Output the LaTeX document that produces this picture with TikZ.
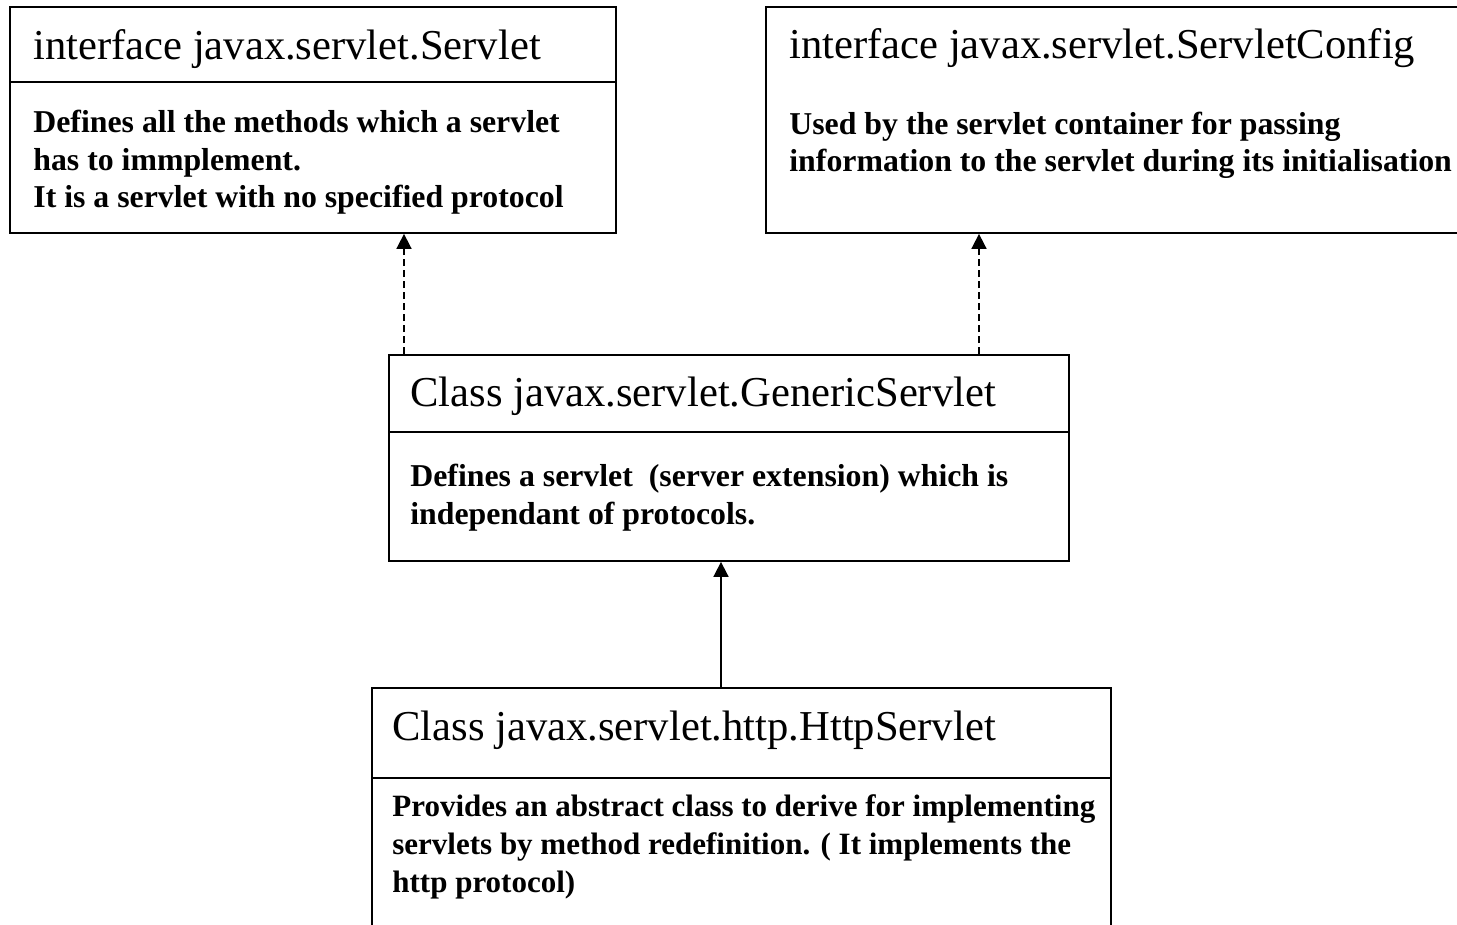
\documentclass[tikz,border=0pt]{standalone}
\usepackage{fontspec}
\setmainfont{Liberation Serif}
\usetikzlibrary{arrows.meta}

\tikzset{
  classbox/.style={draw, line width=0.9pt, inner sep=0pt},
  titletext/.style={anchor=base west, inner sep=0pt, font=\fontsize{21.3}{25}\selectfont},
  bodytext/.style={anchor=base west, inner sep=0pt, align=left, font=\fontsize{15.9}{18.8}\selectfont\bfseries},
  realize/.style={-{Triangle[width=7.5pt,length=7.5pt]}, line width=0.85pt, dash pattern=on 3.5pt off 2pt},
  inherit/.style={-{Triangle[width=7.5pt,length=7.5pt]}, line width=0.85pt}
}

\begin{document}
\begin{tikzpicture}[x=0.5pt,y=-0.5pt]

  \useasboundingbox (0,0) rectangle (1457,925);

  % the four boxes
  \node[classbox, minimum width=303pt, minimum height=113pt] (servlet) at (313,120) {};
  \node[classbox, minimum width=352pt, minimum height=113pt] (config) at (1118,120) {};
  \node[classbox, minimum width=340pt, minimum height=103pt] (generic) at (729,458) {};
  \node[classbox, minimum width=369.5pt, minimum height=136pt] (http) at (741.5,824) {};

  % dividers
  \draw[line width=0.9pt] (servlet.west |- 0,82) -- (servlet.east |- 0,82);
  \draw[line width=0.9pt] (generic.west |- 0,432) -- (generic.east |- 0,432);
  \draw[line width=0.9pt] (http.west |- 0,778) -- (http.east |- 0,778);

  % texts (base = last line)
  \node[titletext] (servlet title) at (33,60) {interface javax.servlet.Servlet};
  \node[bodytext] (servlet body) at (33,208)
    {Defines all the methods which a servlet\\has to immplement.\\It is a servlet with no specified protocol};

  \node[titletext] (config title) at (789,59) {interface javax.servlet.ServletConfig};
  \node[bodytext] (config body) at (789,172)
    {Used by the servlet container for passing\\information to the servlet during its initialisation};

  \node[titletext] (generic title) at (410,407) {Class javax.servlet.GenericServlet};
  \node[bodytext] (generic body) at (410,524)
    {Defines a servlet\ \ (server extension) which is\\independant of protocols.};

  \node[titletext] (http title) at (392,740) {Class javax.servlet.http.HttpServlet};
  \node[bodytext, font=\fontsize{15.5}{18.8}\selectfont\bfseries] (http body) at (392,892)
    {Provides an abstract class to derive for implementing\\servlets by method redefinition. ( It implements the\\http protocol)};

  % arrows
  \coordinate (left arrow) at (404,0);
  \coordinate (right arrow) at (979,0);
  \coordinate (mid arrow) at (721,0);

  \draw[realize] (generic.north -| left arrow) -- (servlet.south -| left arrow);
  \draw[realize] (generic.north -| right arrow) -- (config.south -| right arrow);
  \draw[inherit] (http.north -| mid arrow) -- (generic.south -| mid arrow);

\end{tikzpicture}
\end{document}
